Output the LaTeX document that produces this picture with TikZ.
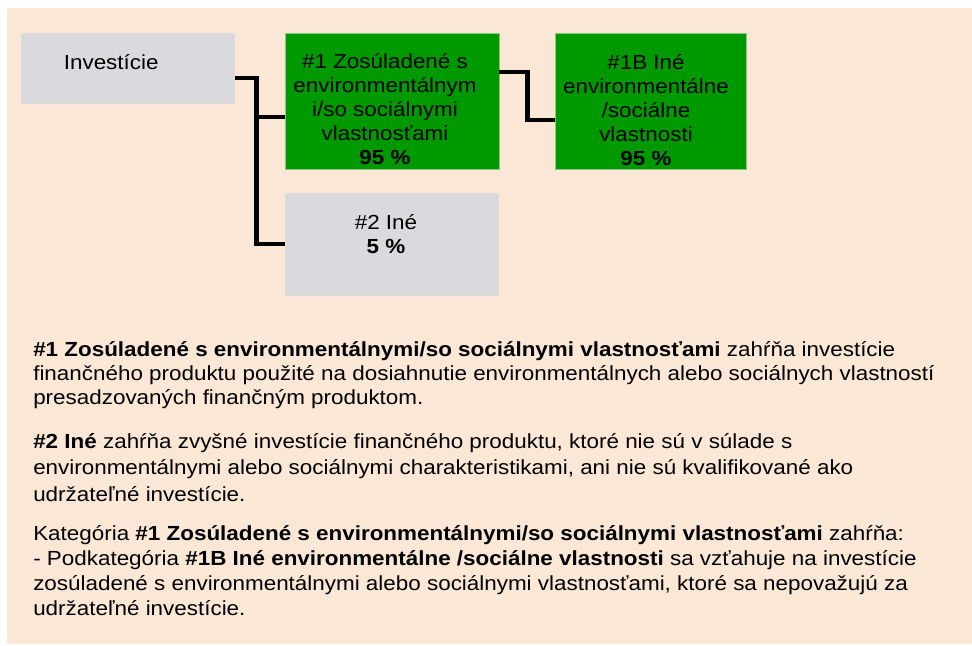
\documentclass[tikz,border=0pt]{standalone}
\usepackage{fontspec}
\setmainfont{Liberation Sans}[FakeStretch=1.1]
\usepackage{tikz}
\usetikzlibrary{positioning}
\definecolor{pozadie}{RGB}{250,231,214}
\definecolor{sedabox}{RGB}{217,217,222}
\definecolor{zelenabox}{RGB}{0,153,0}
\definecolor{zelenaokraj}{RGB}{140,200,130}

\begin{document}
\begin{tikzpicture}[
		graybox/.style={fill=sedabox, inner sep=0pt},
		greenbox/.style={fill=zelenabox, draw=zelenaokraj, line width=0.5pt, inner sep=0pt},
		boxtext/.style={align=center, font=\fontsize{14.5}{17}\selectfont},
		popis/.style={anchor=base west, align=left, inner sep=0pt},
		link/.style={line width=3.2pt}
	]
		% Pozadie
		\useasboundingbox (0,0) rectangle (24.3,-16.125);
		\fill[pozadie] (0.175,-0.2) rectangle (24.3,-16.1);
		% Boxy
		\node[graybox, minimum width=5.35cm, minimum height=1.775cm] (inv) at (3.2,-1.7125) {};
		\node[greenbox, minimum width=5.35cm, minimum height=3.4cm] (zos) at (9.8,-2.525) {};
		\node[greenbox, minimum width=4.775cm, minimum height=3.4cm, right=1.4cm of zos] (ine1b) {};
		\node[graybox, minimum width=5.35cm, minimum height=2.575cm, below=0.575cm of zos] (ine2) {};
		% Texty v boxoch
		\node[boxtext] (invlbl) at (2.78,-1.55) {Investície};
		\node[boxtext] (zoslbl) at (9.625,-2.725) {\#1 Zosúladené s\\environmentálnym\\i/so sociálnymi\\vlastnosťami\\\textbf{95 \%}};
		\node[boxtext] (ine1blbl) at (16.15,-2.75) {\#1B Iné\\environmentálne\\/sociálne\\vlastnosti\\\textbf{95 \%}};
		\node[boxtext] (ine2lbl) at (9.65,-5.86) {\#2 Iné\\\textbf{5 \%}};
		% Spojnice
		\draw[link] ([yshift=-0.24cm]inv.east) -- ++(0.525,0) |- (ine2.west);
		\draw[link] ([yshift=-0.4cm]zos.west) -- ++(-0.725,0);
		\draw[link] ([yshift=0.725cm]zos.east) -- ++(0.7,0) |- ([yshift=-0.475cm]ine1b.west);
		% Vysvetlivky (kotva = posledny riadok)
		\node[popis, font=\fontsize{14.5}{16.8}\selectfont] (popis1) at (0.825,-10.1) {\textbf{\#1 Zosúladené s environmentálnymi/so sociálnymi vlastnosťami} zahŕňa investície\\finančného produktu použité na dosiahnutie environmentálnych alebo sociálnych vlastností\\presadzovaných finančným produktom.};
		\node[popis, font=\fontsize{14.5}{18.8}\selectfont] (popis2) at (0.825,-12.525) {\textbf{\#2 Iné} zahŕňa zvyšné investície finančného produktu, ktoré nie sú v súlade s\\environmentálnymi alebo sociálnymi charakteristikami, ani nie sú kvalifikované ako\\udržateľné investície.};
		\node[popis, font=\fontsize{14.5}{17.6}\selectfont] (popis3) at (0.825,-15.375) {Kategória \textbf{\#1 Zosúladené s environmentálnymi/so sociálnymi vlastnosťami} zahŕňa:\\- Podkategória \textbf{\#1B Iné environmentálne /sociálne vlastnosti} sa vzťahuje na investície\\zosúladené s environmentálnymi alebo sociálnymi vlastnosťami, ktoré sa nepovažujú za\\udržateľné investície.};
	\end{tikzpicture}
\end{document}
